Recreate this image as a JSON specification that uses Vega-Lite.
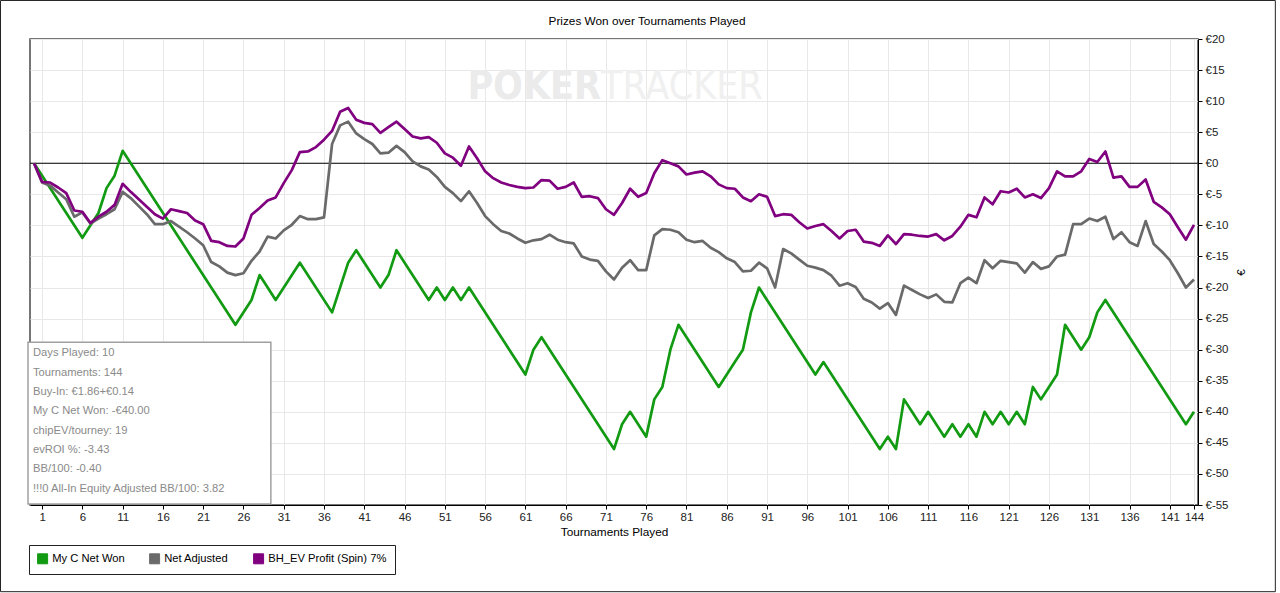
{
  "$schema": "https://vega.github.io/schema/vega-lite/v6.json",
  "width": 1168,
  "height": 466,
  "autosize": {"type": "none"},
  "padding": {"left": 30, "top": 39, "right": 82, "bottom": 88},
  "background": "white",
  "title": {
    "text": "Prizes Won over Tournaments Played",
    "frame": "group",
    "fontSize": 11.8,
    "fontWeight": "normal",
    "color": "#000",
    "anchor": "middle",
    "dx": 33,
    "offset": -28
  },
  "datasets": {
    "series": [
      {"t": 0, "won": 0, "adj": 0, "ev": 0},
      {"t": 1, "adj": -3.1, "ev": -3.0},
      {"t": 2, "adj": -3.6, "ev": -3.1},
      {"t": 3, "adj": -4.7, "ev": -3.9},
      {"t": 4, "adj": -5.8, "ev": -4.8},
      {"t": 5, "adj": -8.6, "ev": -7.6},
      {"t": 6, "won": -12, "adj": -7.9, "ev": -7.8},
      {"t": 7, "adj": -9.7, "ev": -9.6},
      {"t": 8, "won": -8, "adj": -8.9, "ev": -8.6},
      {"t": 9, "won": -4, "adj": -8.2, "ev": -7.8},
      {"t": 10, "won": -2, "adj": -7.4, "ev": -6.7},
      {"t": 11, "won": 2, "adj": -4.6, "ev": -3.3},
      {"t": 12, "adj": -5.6, "ev": -4.6},
      {"t": 13, "adj": -6.9, "ev": -5.8},
      {"t": 14, "adj": -8.2, "ev": -7.0},
      {"t": 15, "adj": -9.8, "ev": -8.2},
      {"t": 16, "adj": -9.8, "ev": -8.9},
      {"t": 17, "adj": -9.3, "ev": -7.4},
      {"t": 18, "adj": -10.2, "ev": -7.7},
      {"t": 19, "adj": -11.1, "ev": -8.0},
      {"t": 20, "adj": -12.1, "ev": -9.2},
      {"t": 21, "adj": -13.2, "ev": -9.8},
      {"t": 22, "adj": -15.9, "ev": -12.5},
      {"t": 23, "adj": -16.6, "ev": -12.7},
      {"t": 24, "adj": -17.6, "ev": -13.3},
      {"t": 25, "won": -26, "adj": -18.0, "ev": -13.4},
      {"t": 26, "adj": -17.7, "ev": -12.1},
      {"t": 27, "won": -22, "adj": -15.7, "ev": -8.3},
      {"t": 28, "won": -18, "adj": -14.2, "ev": -7.2},
      {"t": 29, "adj": -11.8, "ev": -6.0},
      {"t": 30, "won": -22, "adj": -12.1, "ev": -5.5},
      {"t": 31, "adj": -10.8, "ev": -3.2},
      {"t": 32, "adj": -9.9, "ev": -1.1},
      {"t": 33, "won": -16, "adj": -8.5, "ev": 1.8},
      {"t": 34, "adj": -9.0, "ev": 1.9},
      {"t": 35, "adj": -9.0, "ev": 2.6},
      {"t": 36, "adj": -8.7, "ev": 3.8},
      {"t": 37, "won": -24, "adj": 3.1, "ev": 5.2},
      {"t": 38, "adj": 6.1, "ev": 8.3},
      {"t": 39, "won": -16, "adj": 6.7, "ev": 8.9},
      {"t": 40, "won": -14, "adj": 4.8, "ev": 7.0},
      {"t": 41, "adj": 3.9, "ev": 6.5},
      {"t": 42, "adj": 3.1, "ev": 6.3},
      {"t": 43, "won": -20, "adj": 1.6, "ev": 4.9},
      {"t": 44, "won": -18, "adj": 1.7, "ev": 5.8},
      {"t": 45, "won": -14, "adj": 2.8, "ev": 6.7},
      {"t": 46, "adj": 1.8, "ev": 5.5},
      {"t": 47, "adj": 0.3, "ev": 4.3},
      {"t": 48, "adj": -0.5, "ev": 4.0},
      {"t": 49, "won": -22, "adj": -1.0, "ev": 4.2},
      {"t": 50, "won": -20, "adj": -2.2, "ev": 3.3},
      {"t": 51, "won": -22, "adj": -3.8, "ev": 1.6},
      {"t": 52, "won": -20, "adj": -4.8, "ev": 0.9},
      {"t": 53, "won": -22, "adj": -6.1, "ev": -0.4},
      {"t": 54, "won": -20, "adj": -4.5, "ev": 2.7},
      {"t": 55, "adj": -6.4, "ev": 0.8},
      {"t": 56, "adj": -8.5, "ev": -1.3},
      {"t": 57, "adj": -9.8, "ev": -2.4},
      {"t": 58, "adj": -10.9, "ev": -3.1},
      {"t": 59, "adj": -11.3, "ev": -3.5},
      {"t": 60, "adj": -12.1, "ev": -3.8},
      {"t": 61, "won": -34, "adj": -12.8, "ev": -4.0},
      {"t": 62, "won": -30, "adj": -12.4, "ev": -3.9},
      {"t": 63, "won": -28, "adj": -12.2, "ev": -2.7},
      {"t": 64, "adj": -11.5, "ev": -2.8},
      {"t": 65, "adj": -12.3, "ev": -4.1},
      {"t": 66, "adj": -12.7, "ev": -3.8},
      {"t": 67, "adj": -12.9, "ev": -3.1},
      {"t": 68, "adj": -15.0, "ev": -5.4},
      {"t": 69, "adj": -15.5, "ev": -5.3},
      {"t": 70, "adj": -15.7, "ev": -5.6},
      {"t": 71, "adj": -17.4, "ev": -7.4},
      {"t": 72, "won": -46, "adj": -18.7, "ev": -8.3},
      {"t": 73, "won": -42, "adj": -16.8, "ev": -6.4},
      {"t": 74, "won": -40, "adj": -15.6, "ev": -4.1},
      {"t": 75, "adj": -17.2, "ev": -5.4},
      {"t": 76, "won": -44, "adj": -17.2, "ev": -4.8},
      {"t": 77, "won": -38, "adj": -11.6, "ev": -1.6},
      {"t": 78, "won": -36, "adj": -10.6, "ev": 0.5},
      {"t": 79, "won": -30, "adj": -10.7, "ev": 0.0},
      {"t": 80, "won": -26, "adj": -11.1, "ev": -0.5},
      {"t": 81, "adj": -12.3, "ev": -1.8},
      {"t": 82, "adj": -12.7, "ev": -1.5},
      {"t": 83, "adj": -12.5, "ev": -1.3},
      {"t": 84, "adj": -13.6, "ev": -2.1},
      {"t": 85, "won": -36, "adj": -14.3, "ev": -3.4},
      {"t": 86, "won": -34, "adj": -15.3, "ev": -4.0},
      {"t": 87, "won": -32, "adj": -15.9, "ev": -4.1},
      {"t": 88, "won": -30, "adj": -17.4, "ev": -5.5},
      {"t": 89, "won": -24, "adj": -17.3, "ev": -6.1},
      {"t": 90, "won": -20, "adj": -16.0, "ev": -5.0},
      {"t": 91, "adj": -16.9, "ev": -5.4},
      {"t": 92, "adj": -20.0, "ev": -8.5},
      {"t": 93, "adj": -13.8, "ev": -8.2},
      {"t": 94, "adj": -14.5, "ev": -8.3},
      {"t": 95, "adj": -15.5, "ev": -9.5},
      {"t": 96, "adj": -16.5, "ev": -10.5},
      {"t": 97, "won": -34, "adj": -16.8, "ev": -10.1},
      {"t": 98, "won": -32, "adj": -17.2, "ev": -9.8},
      {"t": 99, "adj": -18.1, "ev": -10.9},
      {"t": 100, "adj": -19.7, "ev": -12.1},
      {"t": 101, "adj": -19.3, "ev": -10.9},
      {"t": 102, "adj": -19.9, "ev": -10.7},
      {"t": 103, "adj": -21.8, "ev": -12.6},
      {"t": 104, "adj": -22.4, "ev": -12.8},
      {"t": 105, "won": -46, "adj": -23.4, "ev": -13.3},
      {"t": 106, "won": -44, "adj": -22.5, "ev": -11.6},
      {"t": 107, "won": -46, "adj": -24.4, "ev": -13.0},
      {"t": 108, "won": -38, "adj": -19.7, "ev": -11.4},
      {"t": 109, "won": -40, "adj": -20.4, "ev": -11.5},
      {"t": 110, "won": -42, "adj": -21.1, "ev": -11.7},
      {"t": 111, "won": -40, "adj": -21.7, "ev": -11.8},
      {"t": 112, "won": -42, "adj": -21.1, "ev": -11.4},
      {"t": 113, "won": -44, "adj": -22.3, "ev": -12.4},
      {"t": 114, "won": -42, "adj": -22.4, "ev": -11.7},
      {"t": 115, "won": -44, "adj": -19.3, "ev": -10.2},
      {"t": 116, "won": -42, "adj": -18.4, "ev": -8.3},
      {"t": 117, "won": -44, "adj": -19.3, "ev": -8.7},
      {"t": 118, "won": -40, "adj": -15.6, "ev": -5.5},
      {"t": 119, "won": -42, "adj": -16.9, "ev": -6.6},
      {"t": 120, "won": -40, "adj": -15.7, "ev": -4.5},
      {"t": 121, "won": -42, "adj": -15.9, "ev": -4.7},
      {"t": 122, "won": -40, "adj": -16.1, "ev": -4.1},
      {"t": 123, "won": -42, "adj": -17.6, "ev": -5.5},
      {"t": 124, "won": -36, "adj": -15.9, "ev": -5.0},
      {"t": 125, "won": -38, "adj": -17.0, "ev": -5.6},
      {"t": 126, "won": -36, "adj": -16.6, "ev": -4.0},
      {"t": 127, "won": -34, "adj": -15.0, "ev": -1.3},
      {"t": 128, "won": -26, "adj": -14.7, "ev": -2.1},
      {"t": 129, "won": -28, "adj": -9.8, "ev": -2.1},
      {"t": 130, "won": -30, "adj": -9.8, "ev": -1.3},
      {"t": 131, "won": -28, "adj": -8.9, "ev": 0.7},
      {"t": 132, "won": -24, "adj": -9.3, "ev": 0.2},
      {"t": 133, "won": -22, "adj": -8.6, "ev": 1.9},
      {"t": 134, "adj": -12.2, "ev": -2.3},
      {"t": 135, "adj": -11.1, "ev": -2.1},
      {"t": 136, "adj": -12.7, "ev": -3.8},
      {"t": 137, "adj": -13.3, "ev": -3.8},
      {"t": 138, "adj": -9.3, "ev": -2.6},
      {"t": 139, "adj": -13.0, "ev": -6.2},
      {"t": 140, "adj": -14.2, "ev": -7.1},
      {"t": 141, "adj": -15.6, "ev": -8.2},
      {"t": 142, "adj": -17.7, "ev": -10.3},
      {"t": 143, "won": -42, "adj": -20.0, "ev": -12.3},
      {"t": 144, "won": -40, "adj": -18.7, "ev": -9.9}
    ]
  },
  "layer": [
    {
      "data": {"name": "series"},
      "transform": [
        {"fold": ["won", "adj", "ev"], "as": ["key", "v"]},
        {"filter": "isValid(datum.v)"}
      ],
      "mark": {"type": "line", "strokeWidth": 0, "opacity": 0},
      "encoding": {
        "x": {
          "field": "t",
          "type": "quantitative",
          "scale": {"domain": [-0.5, 144.5], "nice": false, "zero": false},
          "axis": {
            "values": [1, 6, 11, 16, 21, 26, 31, 36, 41, 46, 51, 56, 61, 66, 71, 76, 81, 86, 91, 96, 101, 106, 111, 116, 121, 126, 131, 136, 141, 144],
            "tickCount": 60,
            "title": "Tournaments Played",
            "titleFontSize": 11.8,
            "titleFontWeight": "normal",
            "titleColor": "#000",
            "titlePadding": 4,
            "labelFontSize": 11.5,
            "labelColor": "#222",
            "labelOverlap": false,
            "labelBound": false,
            "labelFlush": false,
            "labelPadding": 2,
            "tickSize": 4,
            "tickColor": "#000",
            "domainColor": "#000",
            "gridColor": "#e8e8e8"
          }
        },
        "y": {
          "field": "v",
          "type": "quantitative",
          "scale": {"domain": [-55, 20], "nice": false, "zero": false},
          "axis": {
            "orient": "right",
            "values": [-55, -50, -45, -40, -35, -30, -25, -20, -15, -10, -5, 0, 5, 10, 15, 20],
            "tickCount": 40,
            "labelExpr": "'€' + datum.value",
            "title": "€",
            "titleAngle": 270,
            "titleFontSize": 11.8,
            "titleFontWeight": "normal",
            "titleColor": "#000",
            "titlePadding": 18,
            "labelFontSize": 11.5,
            "labelColor": "#222",
            "labelPadding": 3,
            "labelOverlap": false,
            "tickSize": 4,
            "tickColor": "#000",
            "domainColor": "#000",
            "gridColor": "#e8e8e8"
          }
        }
      }
    },
    {
      "data": {"values": [{}]},
      "mark": {"type": "rect", "fill": null, "stroke": "#222", "strokeWidth": 1},
      "encoding": {
        "x": {"datum": -4.16, "type": "quantitative"},
        "x2": {"datum": 154.1},
        "y": {"datum": 26.2, "type": "quantitative"},
        "y2": {"datum": -68.95}
      }
    },
    {
      "data": {"values": [{}]},
      "mark": {"type": "text", "text": "POKER", "align": "right", "baseline": "middle", "font": "DejaVu Sans Condensed, Liberation Sans", "fontWeight": "bold", "fontSize": 39, "color": "#ebebeb"},
      "encoding": {
        "x": {"datum": 70.4, "type": "quantitative"},
        "y": {"datum": 12.3, "type": "quantitative"}
      }
    },
    {
      "data": {"values": [{}]},
      "mark": {"type": "text", "text": "TRACKER", "align": "left", "baseline": "middle", "font": "DejaVu Sans Condensed, Liberation Sans", "fontSize": 39, "color": "#f0f0f0"},
      "encoding": {
        "x": {"datum": 70.4, "type": "quantitative"},
        "y": {"datum": 12.3, "type": "quantitative"}
      }
    },
    {
      "data": {"values": [{}]},
      "mark": {"type": "rule", "color": "#000", "strokeWidth": 1.2},
      "encoding": {"y": {"datum": 0, "type": "quantitative"}}
    },
    {
      "data": {"name": "series"},
      "transform": [
        {"fold": ["won", "adj", "ev"], "as": ["key", "v"]},
        {"filter": "isValid(datum.v)"}
      ],
      "mark": {"type": "line", "strokeWidth": 2.7, "strokeJoin": "round"},
      "encoding": {
        "x": {"field": "t", "type": "quantitative"},
        "y": {"field": "v", "type": "quantitative"},
        "color": {
          "field": "key",
          "type": "nominal",
          "scale": {"domain": ["won", "adj", "ev"], "range": ["#129a12", "#6a6a6a", "#800080"]},
          "legend": {
            "orient": "none",
            "legendX": -1,
            "legendY": 506,
            "direction": "horizontal",
            "title": null,
            "symbolType": "square",
            "symbolSize": 100,
            "symbolStrokeWidth": 1,
            "labelFontSize": 11.2,
            "labelColor": "#000",
            "labelOffset": 4,
            "columnPadding": 22,
            "padding": 8,
            "strokeColor": "#222",
            "fillColor": "#fff",
            "labelExpr": "{'won': 'My C Net Won', 'adj': 'Net Adjusted', 'ev': 'BH_EV Profit (Spin) 7%'}[datum.label]",
            "encode": {
              "symbols": {
                "update": {
                  "fill": {"scale": "color", "field": "value"},
                  "stroke": {"value": "#333"},
                  "opacity": {"value": 1}
                }
              }
            }
          }
        }
      }
    },
    {
      "data": {"values": [{}]},
      "mark": {"type": "rect", "fill": "#fff", "stroke": "#a0a0a0", "strokeWidth": 1.5},
      "encoding": {
        "x": {"datum": -0.75, "type": "quantitative"},
        "x2": {"datum": 29.4},
        "y": {"datum": -28.8, "type": "quantitative"},
        "y2": {"datum": -54.85}
      }
    },
    {
      "data": {"values": [{}]},
      "mark": {
        "type": "text",
        "align": "left",
        "baseline": "middle",
        "fontSize": 11.2,
        "lineHeight": 19.35,
        "color": "#8a8a8a",
        "text": [
          "Days Played: 10",
          "Tournaments: 144",
          "Buy-In: €1.86+€0.14",
          "My C Net Won: -€40.00",
          "chipEV/tourney: 19",
          "evROI %: -3.43",
          "BB/100: -0.40",
          "!!!0 All-In Equity Adjusted BB/100: 3.82"
        ]
      },
      "encoding": {
        "x": {"datum": -0.13, "type": "quantitative"},
        "y": {"datum": -30.58, "type": "quantitative"}
      }
    }
  ],
  "config": {
    "font": "Liberation Sans",
    "view": {"stroke": "#4a4a4a", "strokeWidth": 1.5},
    "axis": {"gridWidth": 1, "labelOverlap": false}
  }
}
